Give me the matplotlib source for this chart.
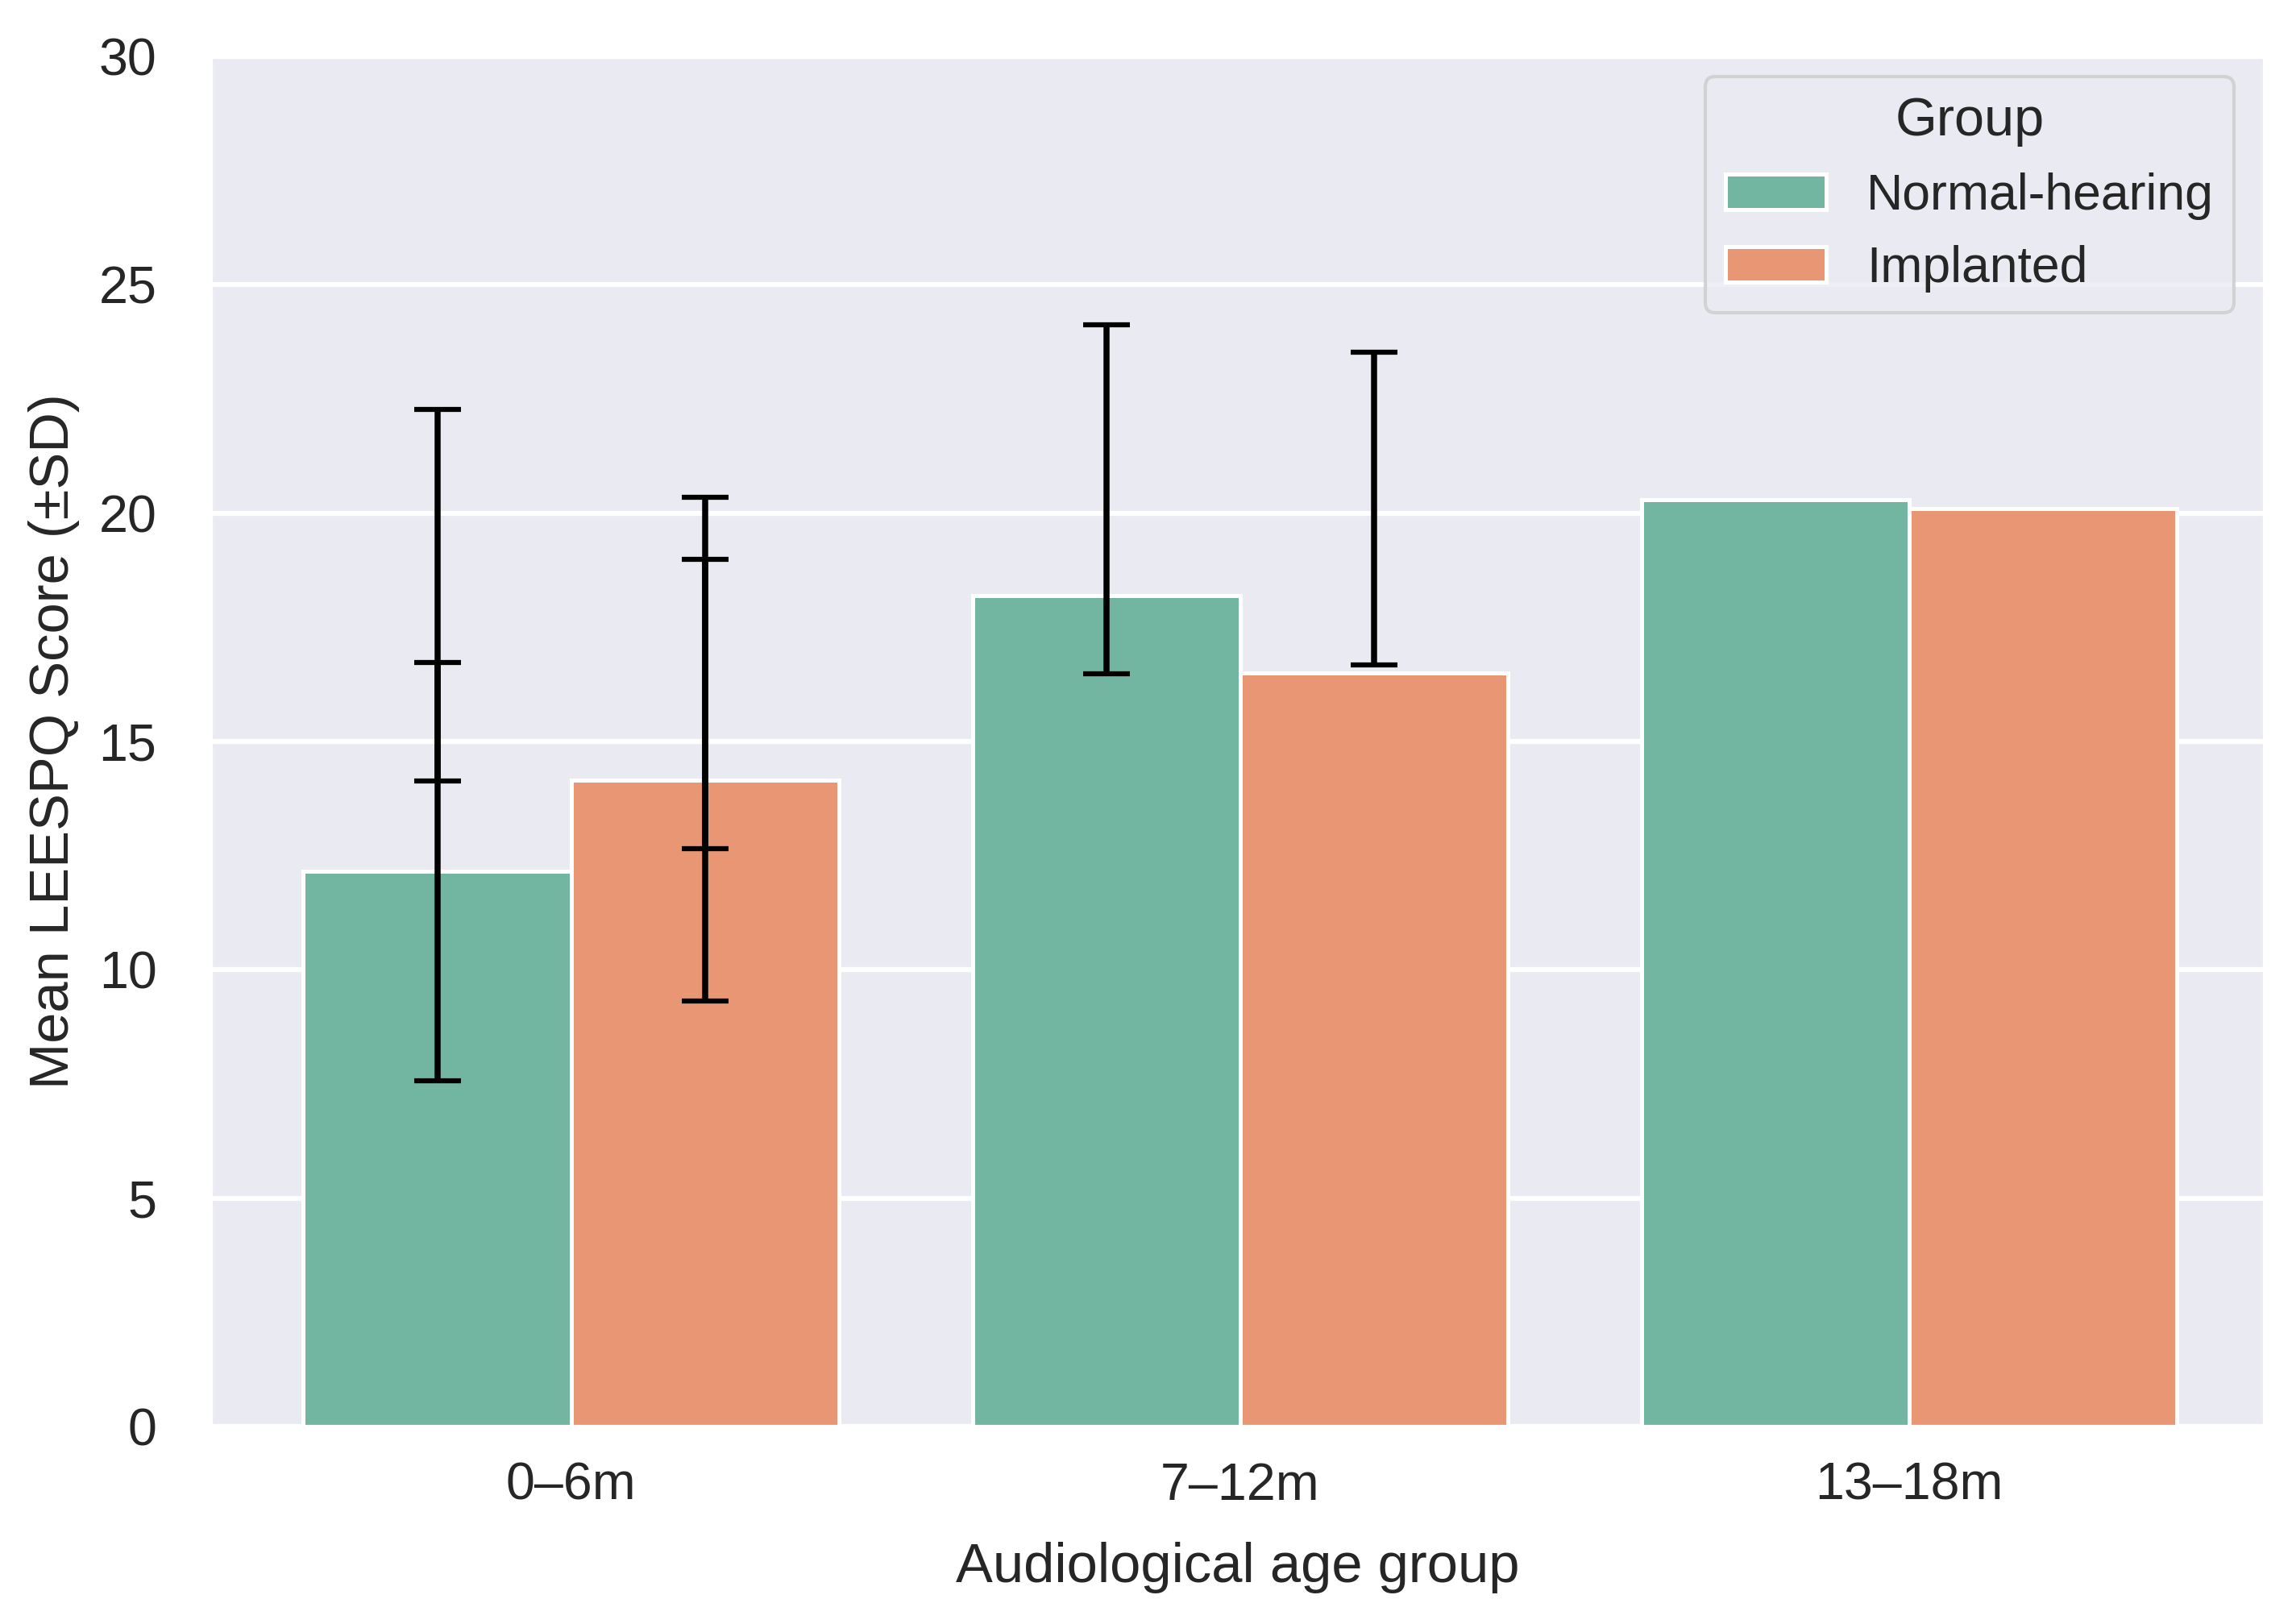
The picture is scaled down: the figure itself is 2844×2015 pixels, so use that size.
import matplotlib
matplotlib.use('Agg')
from matplotlib import pyplot as plt
import seaborn as sns
import numpy as np

# data
age_groups = ['0–6m', '7–12m', '13–18m']
groups = ['Normal-hearing', 'Implanted']
mean_nh = [12.15, 18.2, 20.3]
mean_ci = [14.15, 16.5, 20.1]
sd_nh = [4.58, 4.07, 3.82]
sd_ci = [4.84, 3.84, 3.42]
# the error bars in the original end up shifted: drawn at these category slots
err_slot = [0, 0, 1]

sns.set_theme(style='darkgrid')
plt.rcParams['font.family'] = ['Liberation Sans', 'DejaVu Sans']

pal = sns.color_palette('Set2', 2)
colors = [sns.desaturate(c, 0.75) for c in pal]

fig = plt.figure(figsize=(9.48, 6.717), dpi=300)
ax = fig.add_axes([0.0918, 0.1216, 0.8963, 0.8437])

x = np.arange(len(age_groups))
w = 0.4
means = [mean_nh, mean_ci]
sds = [sd_nh, sd_ci]
for k, g in enumerate(groups):
    off = (k - 0.5) * w
    ax.bar(x + off, means[k], width=w, color=colors[k], edgecolor='white',
           linewidth=1.2, label=g, zorder=2)
    ex = np.array(err_slot) + off
    ax.errorbar(ex, means[k], yerr=sds[k], fmt='none', ecolor='black',
                elinewidth=1.8, capsize=7, capthick=1.5, zorder=3)

ax.set_xlim(-0.539, 2.531)
ax.set_ylim(0, 30)
ax.set_yticks(range(0, 31, 5))
ax.set_xticks(x)
ax.set_xticklabels(age_groups)
ax.tick_params(axis='y', labelsize=15.5, colors='#262626', pad=10)
ax.tick_params(axis='x', labelsize=15.5, colors='#262626', pad=4.5)
ax.set_xlabel('Audiological age group', fontsize=16.5, color='#262626', labelpad=9.5)
ax.set_ylabel('Mean LEESPQ Score (±SD)', fontsize=16.5, color='#262626', labelpad=5.5)
ax.grid(axis='x', visible=False)
ax.grid(axis='y', color='white', linewidth=1.5)

leg = ax.legend(title='Group', loc='upper right', bbox_to_anchor=(0.985, 0.985),
                borderaxespad=0, fontsize=15, title_fontsize=16,
                frameon=True, handlelength=2.0, handleheight=0.7)
leg.get_frame().set_edgecolor('#cccccc')

fig.savefig('out.png', dpi=300)
